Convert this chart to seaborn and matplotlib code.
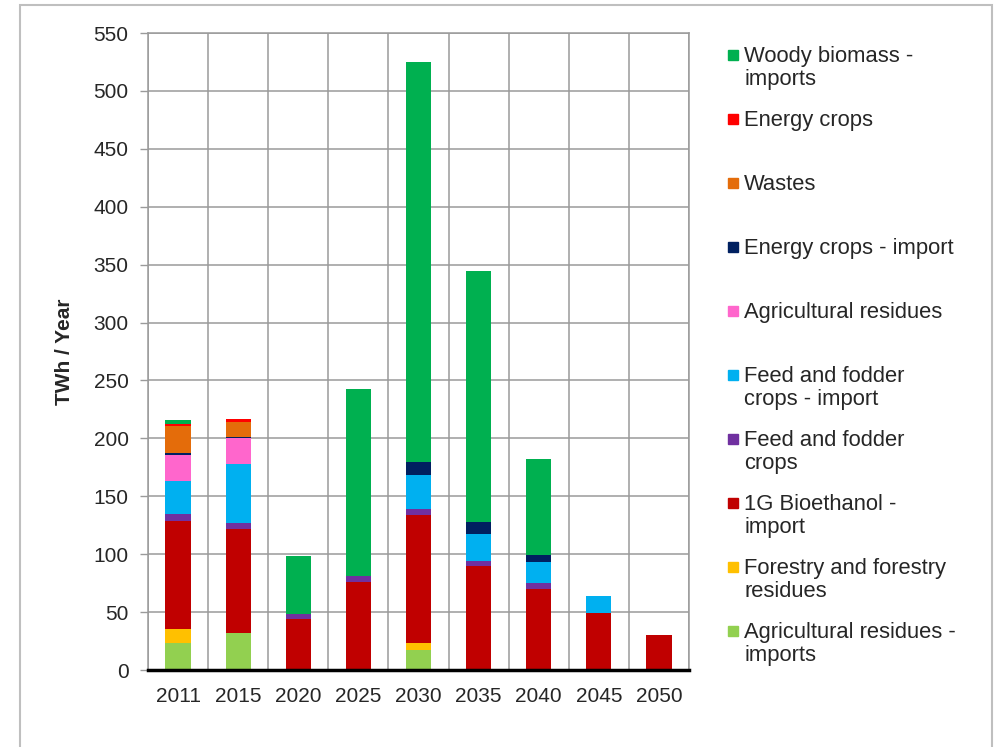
import numpy as np
import pandas as pd
import matplotlib.pyplot as plt
import seaborn as sns
from matplotlib.patches import Rectangle

# datos (TWh / año), de abajo hacia arriba
years = ['2011', '2015', '2020', '2025', '2030', '2035', '2040', '2045', '2050']
agri_res_imports = [23, 32, 0, 0, 17, 0, 0, 0, 0]
forestry = [12, 0, 0, 0, 6, 0, 0, 0, 0]
bioethanol_1g = [94, 90, 44, 76, 111, 89.5, 70, 49.5, 30.5]
feed_fodder = [6, 4.5, 4, 5, 5, 5, 5, 0, 0]
feed_fodder_imp = [28, 51, 0, 0, 29, 23, 18, 14, 0]
agri_res = [23, 23, 0, 0, 0, 0, 0, 0, 0]
energy_crops_imp = [1, 1, 0, 0, 12, 10, 6.5, 0, 0]
wastes = [24, 13, 0, 0, 0, 0, 0, 0, 0]
energy_crops = [1, 2.5, 0, 0, 0, 0, 0, 0, 0]
woody_imports = [4, 0, 50, 162, 345, 217, 83, 0, 0]

series_names = ['Agricultural residues - imports', 'Forestry and forestry residues',
                '1G Bioethanol - import', 'Feed and fodder crops',
                'Feed and fodder crops - import', 'Agricultural residues',
                'Energy crops - import', 'Wastes', 'Energy crops', 'Woody biomass - imports']
series_values = [agri_res_imports, forestry, bioethanol_1g, feed_fodder, feed_fodder_imp,
                 agri_res, energy_crops_imp, wastes, energy_crops, woody_imports]
colors = ['#92D050', '#FFC000', '#C00000', '#7030A0', '#00B0F0',
          '#FF66CC', '#002060', '#E46C0A', '#FF0000', '#00B050']
legend_labels = ['Woody biomass -\nimports', 'Energy crops', 'Wastes', 'Energy crops - import',
                 'Agricultural residues', 'Feed and fodder\ncrops - import', 'Feed and fodder\ncrops',
                 '1G Bioethanol -\nimport', 'Forestry and forestry\nresidues',
                 'Agricultural residues -\nimports']
legend_colors = colors[::-1]

df = pd.DataFrame(dict(zip(series_names, series_values)), index=years)
cum = df.cumsum(axis=1)

sns.set_style('white')
plt.rcParams['font.family'] = ['Liberation Sans', 'DejaVu Sans']

W, H = 997, 747
fig = plt.figure(figsize=(W / 100, H / 100), dpi=100)
ax = fig.add_axes([148 / W, 1 - 670 / H, (689 - 148) / W, (670 - 33) / H])

# barras apiladas: se dibuja el acumulado de arriba hacia abajo
for name, col in zip(series_names[::-1], colors[::-1]):
    d = pd.DataFrame({'year': years, 'val': cum[name].values})
    sns.barplot(data=d, x='year', y='val', order=years, color=col, saturation=1,
                width=0.42, linewidth=0, errorbar=None, ax=ax)

ax.set_xlim(-0.5, len(years) - 0.5)
ax.set_ylim(0, 550)
ax.set_yticks(np.arange(0, 551, 50))
ax.set_xticks(np.arange(-0.5, len(years), 1), minor=True)
ax.set_axisbelow(True)
ax.grid(axis='y', which='major', color='#9A9A9A', lw=1.1)
ax.grid(axis='x', which='minor', color='#9A9A9A', lw=1.1)
ax.grid(axis='x', which='major', visible=False)
ax.tick_params(axis='x', which='major', length=0, pad=12, labelsize=15)
ax.tick_params(axis='x', which='minor', length=6, width=2, color='black', direction='out')
ax.tick_params(axis='y', length=6, width=1, color='#9A9A9A', pad=8, labelsize=15, left=True)
ax.set_xlabel('')
ax.set_ylabel('TWh / Year', fontsize=15, fontweight='bold', labelpad=14)
for s in ['left', 'right', 'top']:
    ax.spines[s].set_color('#9A9A9A')
    ax.spines[s].set_linewidth(1.1)
ax.spines['bottom'].set_color('black')
ax.spines['bottom'].set_linewidth(2.5)

# leyenda manual (marcador alineado con la primera linea)
y0 = 55
for i, (lab, col) in enumerate(zip(legend_labels, legend_colors)):
    yc = y0 + i * 64.0
    fig.patches.append(Rectangle((728 / W, 1 - (yc + 5) / H), 10 / W, 10 / H,
                                 transform=fig.transFigure, color=col))
    fig.text(744 / W, 1 - (yc - 9) / H, lab, fontsize=15.8, va='top', ha='left',
             linespacing=1.12)

# marco exterior
fig.patches.append(Rectangle((20 / W, -0.05), 972 / W, 1.05 - 5 / H, transform=fig.transFigure,
                             fill=False, edgecolor='#BFBFBF', lw=1.5))

fig.savefig('out.png', dpi=100)
